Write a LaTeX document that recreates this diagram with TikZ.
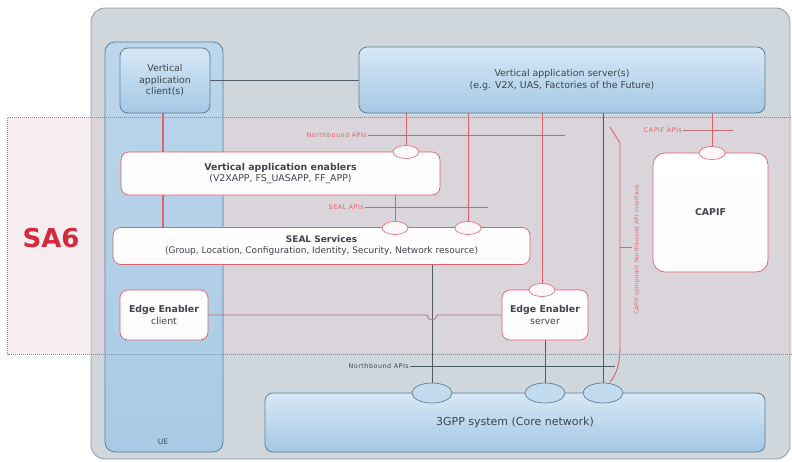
\documentclass[tikz,border=0pt]{standalone}
\usepackage{fontspec}
\setmainfont{DejaVu Sans}
\usepackage{xcolor}
\usetikzlibrary{shapes.geometric}
\definecolor{sysfill}{HTML}{CFD7DD}
\definecolor{sysedge}{HTML}{8E989F}
\definecolor{uetop}{HTML}{BCD6EB}
\definecolor{uemid}{HTML}{CCE1F2}
\definecolor{uebot}{HTML}{A9CAE5}
\definecolor{bluetop}{HTML}{D6E8F6}
\definecolor{bluebot}{HTML}{A4C7E4}
\definecolor{boxedge}{HTML}{5F7E95}
\definecolor{redln}{HTML}{E2606C}
\definecolor{bandfill}{HTML}{E9D3D8}
\definecolor{bandedge}{HTML}{C8707A}
\definecolor{sa6red}{HTML}{D42A3C}
\definecolor{txtgray}{HTML}{3E454C}
\definecolor{grayln}{HTML}{4F5B66}
\pgfdeclarelayer{back}
\pgfdeclarelayer{wires}
\pgfsetlayers{back,wires,main}
\tikzstyle{sysarea}  = [rectangle, rounded corners=14pt, draw=sysedge, line width=0.8pt, fill=sysfill]
\tikzstyle{uecol}    = [rectangle, rounded corners=10pt, draw=boxedge, line width=0.8pt, top color=uetop,
                        middle color=uemid, bottom color=uebot]
\tikzstyle{sa6area}  = [rectangle, fill=bandfill, fill opacity=0.4]
\tikzstyle{sa6dots}  = [draw=bandedge, densely dotted, line width=1pt]
\tikzstyle{bluebox}  = [rectangle, rounded corners=8pt, draw=boxedge, line width=0.8pt, top color=bluetop,
                        bottom color=bluebot, align=center, text=txtgray, font=\fontsize{9.4}{11.5}\selectfont]
\tikzstyle{whitebox} = [rectangle, rounded corners=8pt, draw=redln, line width=0.7pt, top color=white,
                        bottom color=white!92!bandfill, align=center, text=txtgray, font=\fontsize{9.4}{11.5}\selectfont]
\tikzstyle{redoval}  = [ellipse, draw=redln, line width=0.6pt, fill=white!85!bandfill, minimum width=26pt, minimum height=13pt, inner sep=0pt]
\tikzstyle{blueoval} = [ellipse, draw=boxedge, line width=0.7pt, fill=bluetop!60!bluebot, minimum width=40pt, minimum height=20pt, inner sep=0pt]
\tikzstyle{apilbl}   = [font=\fontsize{6.4}{7}\selectfont\addfontfeature{LetterSpace=8}, text=redln, inner sep=1pt]
\tikzstyle{redline}  = [draw=redln, line width=0.9pt]
\tikzstyle{grayline} = [draw=grayln, line width=0.7pt]
\tikzstyle{lblline}  = [draw=redln!60!gray, line width=0.5pt]

\begin{document}
\begin{tikzpicture}[x=1pt, y=-1pt]
  \useasboundingbox (0,0) rectangle (792,461);
  % regions at the back
  \begin{pgfonlayer}{back}
    \node (sys) [sysarea, minimum width=699pt, minimum height=451pt] at (440.5,233.5) {};
    \node (band) [sa6area, minimum width=784pt, minimum height=236pt] at (400,236) {};
    \node (ue) [uecol, minimum width=118pt, minimum height=410pt] at (164,247) {};
    \node (uelbl) [font=\fontsize{7.5}{8}\selectfont, text=txtgray] at (163,442) {UE};
    \draw [sa6dots] (band.north west) rectangle (band.south east);
    \node (sa6) [font=\fontsize{26}{28}\selectfont\bfseries, text=sa6red] at (51,238) {SA6};
  \end{pgfonlayer}

  % boxes
  \node (client) [bluebox, minimum width=90pt, minimum height=65pt] at (165,80.5) {Vertical\\application\\client(s)};
  \node (server) [bluebox, minimum width=406pt, minimum height=66pt] at (562,80) {Vertical application server(s)\\(e.g. V2X, UAS, Factories of the Future)};
  \node (vae) [whitebox, minimum width=319pt, minimum height=43pt] at (280.5,173.5) {\textbf{Vertical application enablers}\\(V2XAPP, FS\_UASAPP, FF\_APP)};
  \node (seal) [whitebox, minimum width=417pt, minimum height=37pt, font=\fontsize{9}{11}\selectfont] at (321.5,246) {\textbf{SEAL Services}\\(Group, Location, Configuration, Identity, Security, Network resource)};
  \node (eec) [whitebox, minimum width=88pt, minimum height=50pt] at (164,315) {\textbf{Edge Enabler}\\client};
  \node (ees) [whitebox, minimum width=86pt, minimum height=50pt] at (545,315) {\textbf{Edge Enabler}\\server};
  \node (capif) [whitebox, rounded corners=12pt, minimum width=115pt, minimum height=119pt] at (710.5,212.5) {\textbf{CAPIF}};
  \node (core) [bluebox, minimum width=500pt, minimum height=59pt, font=\fontsize{11}{13}\selectfont] at (515,422.5) {3GPP system (Core network)};

  % API end points
  \node (ovae)   [redoval] at (406,152) {};
  \node (oseal1) [redoval] at (395,228) {};
  \node (oseal2) [redoval] at (468,228) {};
  \node (oees)   [redoval] at (542,290) {};
  \node (ocapif) [redoval] at (712,153) {};
  \node (oc1) [blueoval] at (432,393) {};
  \node (oc2) [blueoval] at (545,393) {};
  \node (oc3) [blueoval] at (603,393) {};

  % API labels
  \node (nbup)    [apilbl, anchor=east] at (368,135) {Northbound APIs};
  \node (sealapi) [apilbl, anchor=east] at (365,207) {SEAL APIs};
  \node (capiapi) [apilbl, anchor=east] at (683,130) {CAPIF APIs};
  \node (nbdown)  [apilbl, anchor=east, text=txtgray] at (410,366) {Northbound APIs};
  \node (ifclbl)  [apilbl, rotate=90, font=\fontsize{5.6}{6}\selectfont\addfontfeature{LetterSpace=6}] at (637,250) {CAPIF compliant Northbound API interface};
  \coordinate (nbupend) at (565,135);
  \coordinate (sealend) at (488,207);
  \coordinate (capiend) at (733,130);
  \coordinate (nbdnend) at (615,366);
  \coordinate (brtop) at (610,127);
  \coordinate (brA) at (620,143);
  \coordinate (brB) at (620,343);
  \coordinate (brbot) at (610,382);
  \coordinate (brtick) at (632,247);
  \coordinate (hop) at (427,315);
  \coordinate (uex) at (163,0);

  % connectors
  \begin{pgfonlayer}{wires}
    \draw [grayline] (client.east) -- (client.east -| server.west);
    \draw [redline] (ovae) -- (ovae |- server.south);
    \draw [redline] (oseal2) -- (oseal2 |- server.south);
    \draw [redline] (oees) -- (oees |- server.south);
    \draw [redline] (ocapif) -- (ocapif |- server.south);
    \draw [redline] (oseal1) -- (oseal1 |- vae.south);
    \draw [redline, line width=1.1pt] (uex |- client.south) -- (uex |- seal.north);
    \draw [grayline] (oc3) -- (oc3 |- server.south);
    \draw [grayline] (oc1) -- (oc1 |- seal.south);
    \draw [grayline] (oc2) -- (ees.south);
    \draw [draw=redln!55!gray, line width=0.7pt] (eec.east) -- (hop) arc[start angle=180, end angle=0, radius=5] -- (ees.west);
    \draw [lblline] (nbup.east) -- (nbupend);
    \draw [lblline] (sealapi.east) -- (sealend);
    \draw [lblline] (capiapi.east) -- (capiend);
    \draw [grayline, line width=0.5pt] (nbdown.east) -- (nbdnend);
    \draw [redline] (brtop) -- (brA) -- (brB) .. controls (620,365) and (617,373) .. (brbot);
    \draw [redline, line width=0.5pt] (brA |- brtick) -- (brtick);
  \end{pgfonlayer}
\end{tikzpicture}
\end{document}
